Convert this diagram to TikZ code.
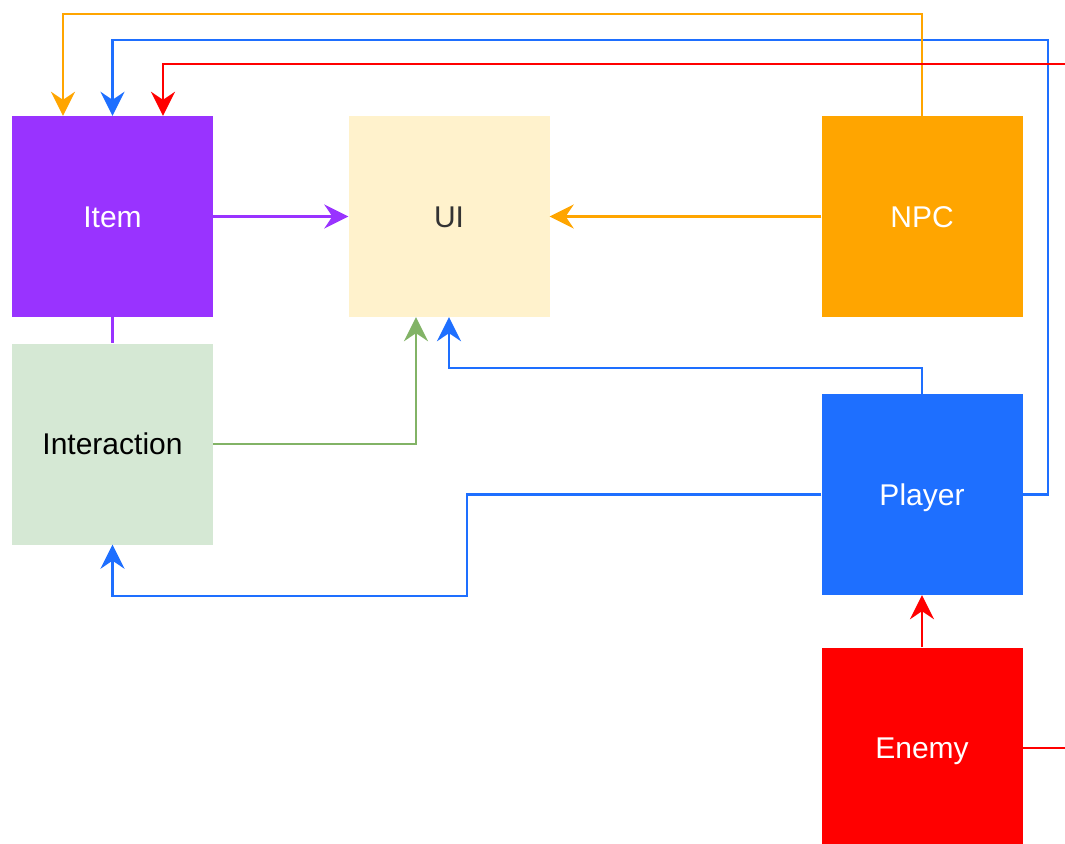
\documentclass[tikz,border=0pt]{standalone}
\usepackage{fontspec}
\setmainfont{Liberation Sans}
\usetikzlibrary{arrows.meta}
\definecolor{cpurple}{HTML}{9933FF}
\definecolor{cui}{HTML}{FFF2CC}
\definecolor{corange}{HTML}{FFA500}
\definecolor{cgreenfill}{HTML}{D5E8D4}
\definecolor{cgreen}{HTML}{82B366}
\definecolor{cblue}{HTML}{1E6FFF}
\definecolor{cred}{HTML}{FF0000}
\definecolor{ctext}{HTML}{333333}
\tikzset{
  box/.style={rectangle, minimum width=201pt, minimum height=201pt, inner sep=0pt, draw=none,
    font=\fontsize{30}{36}\selectfont, text height=21.5pt, text depth=0.5pt},
  conn/.style={line width=2.4pt, -{Stealth[length=24pt,width=24pt,inset=8pt]}},
  pline/.style={conn, draw=cpurple},
  oline/.style={conn, draw=corange},
  gline/.style={conn, draw=cgreen},
  bline/.style={conn, draw=cblue},
  rline/.style={conn, draw=cred},
}
\begin{document}
\begin{tikzpicture}[x=1pt,y=-1pt]
\useasboundingbox (0,0) rectangle (1065,843);
\clip (0,0) rectangle (1065,843);
\node[box, fill=cpurple, text=white] (item) at (112.5,216.5) {Item};
\node[box, fill=cui, text=ctext] (ui) at (449,216.5) {UI};
\node[box, fill=corange, text=white] (npc) at (922,216.5) {NPC};
\node[box, fill=cgreenfill, text=black] (inter) at (112.5,444) {Interaction};
\node[box, fill=cblue, text=white] (player) at (922,494.5) {Player};
\node[box, fill=cred, text=white] (enemy) at (922,748) {Enemy};
\coordinate (npcTop) at (922,14);
\coordinate (plRight) at (1048,40);
\coordinate (enRight) at (1090,64);
\coordinate (plUp) at (922,368);
\coordinate (plDown) at (467,596);
% connectors
\draw[pline] (item.east) -- (ui.west);
\draw[oline] (npc.west) -- (ui.east);
\draw[line width=2.4pt, draw=cpurple] (item.south) -- (inter.north);
\draw[gline] (inter.east) -| ([xshift=-33pt]ui.south);
\draw[bline] (player.north) -- (plUp) -| (ui.south);
\draw[bline] (player.west) -| (plDown) -| (inter.south);
\draw[bline] (player.east) -| (plRight) -| (item.north);
\draw[oline] (npc.north) -- (npcTop) -| ([xshift=-49.5pt]item.north);
\draw[rline] (enemy.east) -| (enRight) -| ([xshift=50.5pt]item.north);
\draw[rline] (enemy.north) -- (player.south);
\end{tikzpicture}
\end{document}
